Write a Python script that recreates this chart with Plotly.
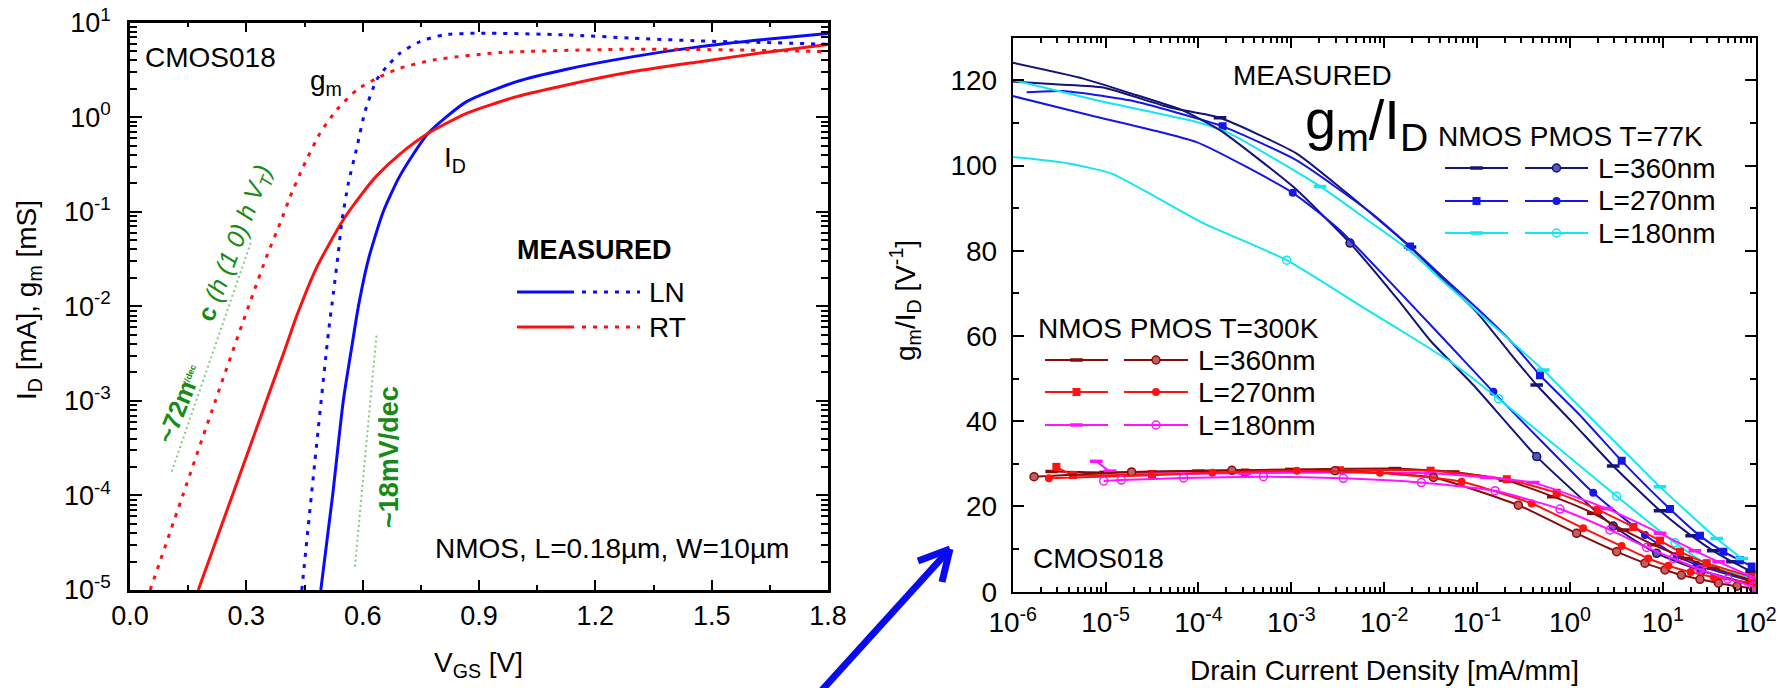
import numpy as np
import plotly.graph_objects as go

W, H = 1786, 688
FONT = "Liberation Sans, Arial, sans-serif"

# ---------------- Left panel: transfer curves (V_GS in V, log10 of I_D [mA] / g_m [mS])
vgs_ln_id = [0.492, 0.5225, 0.550, 0.573, 0.589, 0.615, 0.653, 0.696, 0.769, 0.868, 0.997, 1.126, 1.298, 1.47, 1.642, 1.8]
log_ln_id = [-5.0, -4.0, -3.0, -2.4, -2.0, -1.5, -1.0, -0.62, -0.17, 0.165, 0.377, 0.508, 0.641, 0.747, 0.825, 0.885]

vgs_rt_id = [0.176, 0.30, 0.40, 0.43, 0.48, 0.546, 0.60, 0.636, 0.696, 0.769, 0.868, 0.997, 1.126, 1.298, 1.47, 1.642, 1.8]
log_rt_id = [-5.0, -3.59, -2.45, -2.1, -1.6, -1.11, -0.80, -0.62, -0.39, -0.17, 0.042, 0.218, 0.342, 0.483, 0.588, 0.688, 0.77]

vgs_ln_gm = [0.443, 0.477, 0.5116, 0.5245, 0.537, 0.546, 0.563, 0.585, 0.606, 0.636, 0.662, 0.696, 0.748, 0.808, 0.9, 1.126, 1.298, 1.47, 1.642, 1.8]
log_ln_gm = [-5.0, -3.63, -2.28, -1.86, -1.44, -1.11, -0.70, -0.32, 0.06, 0.395, 0.535, 0.677, 0.80, 0.871, 0.889, 0.871, 0.836, 0.807, 0.79, 0.772]

vgs_rt_gm = [0.052, 0.136, 0.22, 0.284, 0.318, 0.3526, 0.387, 0.413, 0.447, 0.49, 0.533, 0.585, 0.645, 0.696, 0.782, 0.954, 1.30, 1.556, 1.8]
log_rt_gm = [-5.0, -4.0, -3.0, -2.25, -1.86, -1.47, -1.12, -0.84, -0.52, -0.17, 0.077, 0.289, 0.43, 0.518, 0.606, 0.684, 0.72, 0.712, 0.694]

# subthreshold slope guide lines
guide_rt_v = [0.1076, 0.314]
guide_rt_log = [-3.748, -1.296]
guide_ln_v = [0.580, 0.636]
guide_ln_log = [-4.753, -2.291]

# ---------------- Right panel: gm/ID vs drain current density (log10 of mA/mm)
# 77 K
n360_77_x = [-6.0, -5.5, -5.024, -4.306, -3.768, -2.942, -2.44, -2.153, -1.722, -1.4, -1.0, -0.646, -0.358, 0.036, 0.466, 0.97, 1.31, 1.543, 1.75, 1.957]
n360_77_y = [119.7, 119.0, 118.3, 113.6, 111.2, 102.8, 94.2, 89.0, 80.9, 74.0, 65.5, 56.0, 48.5, 39.5, 29.5, 19.0, 13.1, 9.6, 7.0, 4.7]
n360_77_mk = [4, 8, 12, 14, 15, 16, 17, 18, 19]

n270_77_x = [-5.85, -5.455, -4.737, -3.74, -2.942, -2.153, -1.722, -1.4, -1.0, -0.646, -0.323, 0.108, 0.557, 1.077, 1.40, 1.651, 1.83, 1.957]
n270_77_y = [117.2, 117.5, 115.3, 109.2, 101.2, 89.1, 81.0, 74.5, 66.5, 59.0, 50.8, 41.4, 30.7, 19.4, 13.1, 9.4, 7.4, 5.9]
n270_77_mk = [3, 6, 10, 12, 13, 14, 15, 16, 17]

n180_77_x = [-6.0, -5.096, -4.02, -3.66, -2.69, -2.153, -1.722, -1.4, -0.646, -0.287, 0.036, 0.395, 0.754, 0.969, 1.58, 1.849]
n180_77_y = [120.1, 115.3, 110.2, 107.5, 95.1, 86.8, 80.0, 73.5, 59.0, 52.0, 44.9, 37.1, 29.3, 24.6, 12.5, 7.8]
n180_77_mk = [4, 9, 13, 14, 15]

p360_77_x = [-6.0, -5.24, -4.737, -4.163, -3.768, -2.979, -2.368, -1.848, -1.507, -1.04, -0.358, 0.466, 0.934, 1.418, 1.974]
p360_77_y = [124.1, 120.4, 117.0, 112.9, 108.3, 95.0, 81.8, 68.4, 59.0, 48.5, 31.7, 15.4, 9.0, 4.9, 1.6]
p360_77_mk = [6, 10, 11, 12, 13, 14]

p270_77_x = [-6.0, -5.168, -4.02, -2.985, -2.476, -1.346, -0.825, 0.251, 0.808, 1.149, 1.364, 1.974]
p270_77_y = [116.3, 111.8, 105.5, 93.6, 84.8, 59.0, 46.9, 23.2, 13.3, 8.4, 6.3, 2.3]
p270_77_mk = [3, 6, 7, 8, 9, 10, 11]

p180_77_x = [-6.0, -5.4, -4.934, -3.948, -3.05, -2.153, -1.65, -1.256, -0.77, 0.503, 1.13, 1.47, 1.974]
p180_77_y = [102.0, 100.5, 98.1, 86.5, 77.8, 65.7, 59.0, 53.5, 45.3, 22.4, 11.5, 6.6, 3.1]
p180_77_mk = [4, 8, 9, 10, 11, 12]

# 300 K
n360_300_x = [-5.58, -5.0, -4.0, -3.0, -1.884, -1.256, -0.7, -0.18, 0.25, 0.574, 0.9, 1.257, 1.543, 1.957]
n360_300_y = [28.2, 28.0, 28.3, 28.7, 28.9, 28.1, 26.2, 22.3, 18.4, 14.5, 11.0, 7.8, 5.5, 2.7]

n270_300_x = [-5.53, -5.35, -4.5, -3.5, -2.476, -1.5, -0.68, -0.143, 0.305, 0.682, 0.97, 1.185, 1.472, 1.957]
n270_300_y = [29.3, 27.4, 27.6, 28.0, 28.5, 28.4, 26.4, 23.2, 19.2, 15.2, 12.0, 9.4, 6.7, 3.5]

n180_300_x = [-5.1, -4.95, -4.5, -3.5, -2.5, -1.5, -0.9, -0.395, 0.395, 0.97, 1.345, 1.6, 2.0]
n180_300_y = [30.6, 28.3, 27.8, 27.8, 28.0, 27.8, 26.8, 25.6, 19.5, 13.7, 9.6, 7.0, 3.1]

p360_300_x = [-5.77, -4.72, -3.64, -2.53, -1.47, -0.556, 0.072, 0.503, 0.808, 1.023, 1.2, 1.4, 1.6, 1.8, 1.974]
p360_300_y = [27.0, 28.1, 28.5, 28.4, 26.8, 20.3, 13.7, 9.4, 6.7, 5.1, 3.9, 2.9, 2.0, 1.3, 0.8]

p270_300_x = [-5.61, -4.5, -3.85, -2.94, -2.046, -1.166, -0.412, 0.143, 0.557, 0.843, 1.059, 1.3, 1.55, 1.974]
p270_300_y = [26.6, 27.3, 27.9, 28.4, 27.9, 25.8, 20.7, 14.9, 10.7, 7.8, 6.1, 4.6, 3.4, 2.0]

p180_300_x = [-5.02, -4.83, -4.16, -3.3, -2.44, -1.6, -0.807, -0.107, 0.431, 0.826, 1.113, 1.4, 1.7, 1.974]
p180_300_y = [26.0, 26.2, 26.7, 27.0, 26.6, 25.6, 23.7, 19.4, 14.5, 10.4, 7.8, 5.2, 3.0, 1.2]

# ---------------- layout geometry (pixels)
L_X0, L_X1, L_Y0, L_Y1 = 130, 828, 22.7, 590     # left plot box
R_X0, R_X1, R_Y0, R_Y1 = 1012.7, 1755.7, 37.7, 591.7  # right plot box


def fx(x):
    return x / W


def fy(y):
    return 1 - y / H


NAVY, BLUE, CYAN = "#141478", "#1616e6", "#12e6f0"
DRED, RED, MAG = "#8c0a0a", "#ff1212", "#ff14ff"
LBLUE, LRED = "#0a0aff", "#ff1010"
GREEN = "#178a17"
DOT = "4px,7px"

fig = go.Figure()

# left panel curves
for v, lg, col, dash in [
    (vgs_ln_id, log_ln_id, LBLUE, "solid"),
    (vgs_rt_id, log_rt_id, LRED, "solid"),
    (vgs_ln_gm, log_ln_gm, LBLUE, DOT),
    (vgs_rt_gm, log_rt_gm, LRED, DOT),
]:
    fig.add_trace(go.Scatter(x=v, y=np.power(10.0, lg), mode="lines",
                             line=dict(color=col, width=3, dash=dash, shape="spline", smoothing=0.6),
                             xaxis="x", yaxis="y", showlegend=False, hoverinfo="skip"))

for v, lg in [(guide_rt_v, guide_rt_log), (guide_ln_v, guide_ln_log)]:
    fig.add_trace(go.Scatter(x=v, y=np.power(10.0, lg), mode="lines",
                             line=dict(color="#86c886", width=2, dash="2px,3px"),
                             xaxis="x", yaxis="y", showlegend=False, hoverinfo="skip"))

# right panel curves
curves_77 = [
    (n360_77_x, n360_77_y, n360_77_mk, NAVY, "line-ew", None),
    (n270_77_x, n270_77_y, n270_77_mk, BLUE, "square", None),
    (n180_77_x, n180_77_y, n180_77_mk, CYAN, "line-ew", None),
    (p360_77_x, p360_77_y, p360_77_mk, NAVY, "circle", "#5a5aa8"),
    (p270_77_x, p270_77_y, p270_77_mk, BLUE, "circle", None),
    (p180_77_x, p180_77_y, p180_77_mk, CYAN, "circle-open", None),
]
curves_300 = [
    (n360_300_x, n360_300_y, DRED, "line-ew", None),
    (n270_300_x, n270_300_y, RED, "square", None),
    (n180_300_x, n180_300_y, MAG, "line-ew", None),
    (p360_300_x, p360_300_y, DRED, "circle", "#c06060"),
    (p270_300_x, p270_300_y, RED, "circle", None),
    (p180_300_x, p180_300_y, MAG, "circle-open", None),
]


def marker_style(sym, col, fill):
    if sym == "line-ew":
        return dict(symbol=sym, size=9, line=dict(color=col, width=3.5))
    if sym == "circle-open":
        return dict(symbol=sym, size=8, color=col, line=dict(color=col, width=1.5))
    if fill:
        return dict(symbol=sym, size=8, color=fill, line=dict(color=col, width=1.5))
    return dict(symbol=sym, size=8, color=col, line=dict(color=col, width=0))


for cx, cy, mk, col, sym, fill in curves_77:
    xv = np.power(10.0, cx)
    fig.add_trace(go.Scatter(x=xv, y=cy, mode="lines",
                             line=dict(color=col, width=2, shape="spline", smoothing=0.5),
                             xaxis="x2", yaxis="y2", showlegend=False, hoverinfo="skip"))
    fig.add_trace(go.Scatter(x=xv[mk], y=np.asarray(cy)[mk], mode="markers",
                             marker=marker_style(sym, col, fill),
                             xaxis="x2", yaxis="y2", showlegend=False, hoverinfo="skip"))

for cx, cy, col, sym, fill in curves_300:
    fig.add_trace(go.Scatter(x=np.power(10.0, cx), y=cy, mode="lines+markers",
                             line=dict(color=col, width=2, shape="spline", smoothing=0.5),
                             marker=marker_style(sym, col, fill),
                             xaxis="x2", yaxis="y2", showlegend=False, hoverinfo="skip"))

# legend swatches on a full-figure pixel overlay
def swatch(x0, x1, y, col, dash="solid", width=2, sym=None, fill=None):
    fig.add_trace(go.Scatter(x=[x0, x1], y=[y, y], mode="lines",
                             line=dict(color=col, width=width, dash=dash),
                             xaxis="x3", yaxis="y3", showlegend=False, hoverinfo="skip"))
    if sym:
        fig.add_trace(go.Scatter(x=[(x0 + x1) / 2], y=[y], mode="markers",
                                 marker=marker_style(sym, col, fill),
                                 xaxis="x3", yaxis="y3", showlegend=False, hoverinfo="skip"))

swatch(517, 574, 292, LBLUE, width=3)
swatch(582, 640, 292, LBLUE, dash=DOT, width=3)
swatch(517, 574, 327, LRED, width=3)
swatch(582, 640, 327, LRED, dash=DOT, width=3)

rows_77 = [(168, NAVY, "line-ew", None, "circle", "#5a5aa8"),
           (201, BLUE, "square", None, "circle", None),
           (233, CYAN, "line-ew", None, "circle-open", None)]
for y, col, s1, f1, s2, f2 in rows_77:
    swatch(1445, 1508, y, col, sym=s1, fill=f1)
    swatch(1525, 1588, y, col, sym=s2, fill=f2)

rows_300 = [(360, DRED, "line-ew", None, "circle", "#c06060"),
            (392, RED, "square", None, "circle", None),
            (425, MAG, "line-ew", None, "circle-open", None)]
for y, col, s1, f1, s2, f2 in rows_300:
    swatch(1045, 1108, y, col, sym=s1, fill=f1)
    swatch(1124, 1188, y, col, sym=s2, fill=f2)

# ---------------- axes
axis_common = dict(showline=True, linecolor="black", mirror="allticks", ticks="inside",
                   tickcolor="black", showgrid=False, zeroline=False, automargin=False,
                   tickfont=dict(family=FONT, size=27, color="black"))

left_minor = [k * 10.0 ** e for e in range(-5, 1) for k in range(2, 10)]
left_decades = [10.0 ** e for e in range(-5, 2)]
right_minor = [k * 10.0 ** e for e in range(-6, 2) for k in range(2, 10)]
right_decades = [10.0 ** e for e in range(-6, 3)]

fig.update_layout(
    width=W, height=H, margin=dict(l=0, r=0, t=0, b=0, autoexpand=False),
    paper_bgcolor="white", plot_bgcolor="rgba(0,0,0,0)",
    xaxis=dict(axis_common, domain=[fx(L_X0), fx(L_X1)], anchor="y", range=[0, 1.8],
               tick0=0, dtick=0.3, tickformat=".1f", ticklen=10, tickwidth=2, linewidth=2.5,
               ticklabelstandoff=0,
               minor=dict(dtick=0.15, ticks="inside", ticklen=5, tickwidth=2, tickcolor="black")),
    yaxis=dict(axis_common, domain=[fy(L_Y1), fy(L_Y0)], anchor="x", type="log", range=[-5, 1],
               tickvals=left_decades,
               ticktext=["10<sup>%d</sup>" % e for e in range(-5, 2)],
               ticklen=12, tickwidth=2, linewidth=2.5, ticklabelstandoff=11,
               minor=dict(tickvals=left_minor, ticks="inside", ticklen=7, tickwidth=2, tickcolor="black")),
    xaxis2=dict(axis_common, domain=[fx(R_X0), fx(R_X1)], anchor="y2", type="log", range=[-6, 2],
                tickvals=right_decades,
                ticktext=["10<sup>%d</sup>" % e for e in range(-6, 3)],
                ticklen=10, tickwidth=2, linewidth=2, ticklabelstandoff=5,
                tickfont=dict(family=FONT, size=28, color="black"),
                minor=dict(tickvals=right_minor, ticks="inside", ticklen=5, tickwidth=1.5, tickcolor="black")),
    yaxis2=dict(axis_common, domain=[fy(R_Y1), fy(R_Y0)], anchor="x2", range=[0, 130],
                tick0=0, dtick=20, ticklen=11, tickwidth=2, linewidth=2, ticklabelstandoff=8,
                tickfont=dict(family=FONT, size=28, color="black"),
                minor=dict(dtick=10, ticks="inside", ticklen=6, tickwidth=2, tickcolor="black")),
    xaxis3=dict(domain=[0, 1], anchor="y3", range=[0, W], visible=False, automargin=False),
    yaxis3=dict(domain=[0, 1], anchor="x3", range=[H, 0], visible=False, automargin=False),
)


def text(s, x, y, size=28, anchor="left", angle=0, color="black"):
    fig.add_annotation(text=s, x=fx(x), y=fy(y), xref="paper", yref="paper",
                       xanchor=anchor, yanchor="middle", showarrow=False, textangle=angle,
                       font=dict(family=FONT, size=size, color=color))

# left panel texts
text("CMOS018", 143, 57)
text("g<sub>m</sub>", 308, 82)
text("I<sub>D</sub>", 442, 160)
text("<b>MEASURED</b>", 515, 250, size=27)
text("LN", 647, 292)
text("RT", 647, 327)
text("NMOS, L=0.18µm, W=10µm", 433, 548)
text("V<sub>GS</sub> [V]", 479, 664, anchor="center")
text("I<sub>D</sub> [mA], g<sub>m</sub> [mS]", 28, 300, anchor="center", angle=-90)
text("<b>~18mV/dec</b>", 389, 457, size=27, anchor="center", angle=-90, color=GREEN)
text("<b>c</b> <i>(h (1 0) h V<sub>T</sub>)</i>", 236, 243, size=25, anchor="center", angle=-69, color=GREEN)
text("<b>~72m</b>", 176, 412, size=25, anchor="center", angle=-68, color=GREEN)
text("<b>V/dec</b>", 189, 376, size=9, anchor="center", angle=-68, color=GREEN)

# right panel texts
text("MEASURED", 1231, 76)
text("g<sub>m</sub>/I<sub>D</sub>", 1303, 124, size=56)
text("NMOS PMOS T=77K", 1436, 136)
for y, s in zip([168, 201, 233], ["L=360nm", "L=270nm", "L=180nm"]):
    text(s, 1596, y)
text("NMOS PMOS T=300K", 1036, 328)
for y, s in zip([360, 392, 425], ["L=360nm", "L=270nm", "L=180nm"]):
    text(s, 1196, y)
text("CMOS018", 1031, 558)
text("Drain Current Density [mA/mm]", 1384, 670, anchor="center")
text("g<sub>m</sub>/I<sub>D</sub> [V<sup>-1</sup>]", 905, 300, anchor="center", angle=-90)

# blue arrow between the panels
for (x0, y0, x1, y1) in [(822, 690, 950, 549), (918, 561, 950, 549), (950, 549, 942, 582)]:
    fig.add_shape(type="line", xref="paper", yref="paper",
                  x0=fx(x0), y0=fy(y0), x1=fx(x1), y1=fy(y1),
                  line=dict(color="#0a0af0", width=7))

fig.write_html("out.html")
